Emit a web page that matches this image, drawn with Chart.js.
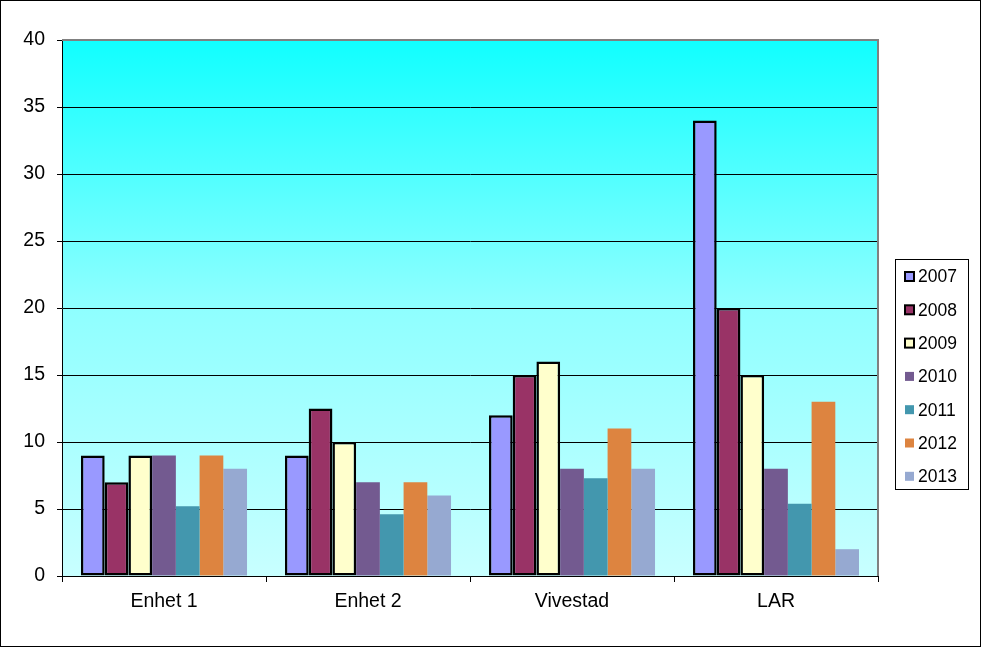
<!DOCTYPE html>
<html>
<head>
<meta charset="utf-8">
<script src="https://cdn.jsdelivr.net/npm/chart.js@4.4.1/dist/chart.umd.min.js"></script>
<style>
    body { margin: 0; background: #fff; }
    #wrap { width: 981px; height: 647px; position: relative; }
</style>
</head>
<body>
<div id="wrap"><canvas id="barChart"></canvas></div>
<script>
// data
const categories = ['Enhet 1', 'Enhet 2', 'Vivestad', 'LAR'];
const years = ['2007', '2008', '2009', '2010', '2011', '2012', '2013'];
const v2007 = [9, 9, 12, 34];
const v2008 = [7, 12.5, 15, 20];
const v2009 = [9, 10, 16, 15];
const v2010 = [9, 7, 8, 8];
const v2011 = [5.2, 4.6, 7.3, 5.4];
const v2012 = [9, 7, 11, 13];
const v2013 = [8, 6, 8, 2];
const yMax = 40;
const yStep = 5;

const values = [v2007, v2008, v2009, v2010, v2011, v2012, v2013];
const colors = ['#9999FF', '#993366', '#FFFFCC', '#735A90', '#4397AE', '#DD8440', '#96A9D1'];
const outlined = [true, true, true, false, false, false, false];

const fontFamily = '"Liberation Sans", Arial, sans-serif';

// background gradient, gray frame, legend and outer border
const decor = {
    id: 'decor',
    beforeDraw(chart) {
        const { ctx, chartArea: a } = chart;
        ctx.save();
        ctx.fillStyle = '#fff';
        ctx.fillRect(0, 0, chart.width, chart.height);
        const g = ctx.createLinearGradient(0, a.top, 0, a.bottom);
        g.addColorStop(0, '#10FFFF');
        g.addColorStop(0.48, '#8CFFFF');
        g.addColorStop(1, '#C8FFFF');
        ctx.fillStyle = g;
        ctx.fillRect(a.left, a.top, a.right - a.left, a.bottom - a.top);
        ctx.restore();
    },
    afterDraw(chart) {
        const { ctx, chartArea: a } = chart;
        ctx.save();
        // gray top and right edges of plot area
        ctx.strokeStyle = '#808080';
        ctx.lineWidth = 2;
        ctx.beginPath();
        ctx.moveTo(a.left, a.top);
        ctx.lineTo(a.right, a.top);
        ctx.lineTo(a.right, a.bottom);
        ctx.stroke();

        // legend
        ctx.lineWidth = 1;
        ctx.strokeStyle = '#000';
        ctx.strokeRect(895.5, 259.5, 73, 230);
        ctx.font = '17.5px ' + fontFamily;
        ctx.textBaseline = 'middle';
        ctx.textAlign = 'left';
        chart.data.datasets.forEach((ds, i) => {
            const cy = 276.5 + i * 33.3;
            ctx.fillStyle = ds.backgroundColor;
            ctx.fillRect(905, cy - 4.5, 9, 9);
            if (outlined[i]) {
                ctx.lineWidth = 2;
                ctx.strokeStyle = '#000';
                ctx.strokeRect(905, cy - 4.5, 9, 9);
            }
            ctx.fillStyle = '#000';
            ctx.fillText(ds.label, 918, cy + 1);
        });

        // outer frame
        ctx.lineWidth = 1;
        ctx.strokeStyle = '#000';
        ctx.strokeRect(0.5, 0.5, chart.width - 1, chart.height - 1);
        ctx.restore();
    }
};

const ctx = document.getElementById('barChart').getContext('2d');

const myChart = new Chart(ctx, {
    type: 'bar',
    data: {
        labels: categories,
        datasets: years.map((y, i) => ({
            label: y,
            data: values[i],
            backgroundColor: colors[i],
            borderColor: '#000',
            borderWidth: outlined[i] ? 2.5 : 0,
            borderSkipped: false,
            barPercentage: 1,
            categoryPercentage: 0.814
        }))
    },
    options: {
        responsive: true,
        maintainAspectRatio: false,
        animation: false,
        layout: { padding: { top: 40, right: 103, bottom: 0, left: 0 } },
        plugins: {
            legend: { display: false },
            tooltip: { enabled: false }
        },
        scales: {
            x: {
                grid: { drawOnChartArea: false, drawTicks: true, tickLength: 6, color: '#000', offset: true },
                border: { color: '#000', width: 1 },
                ticks: { color: '#000', font: { family: fontFamily, size: 19.5 }, padding: 7.5 },
                afterFit(scale) { scale.height = 71; }
            },
            y: {
                min: 0,
                max: yMax,
                grid: { color: '#000', lineWidth: 1, tickLength: 5 },
                border: { color: '#000', width: 1 },
                ticks: { stepSize: yStep, color: '#000', font: { family: fontFamily, size: 19.5 }, padding: 12 },
                afterFit(scale) { scale.width = 62; }
            }
        }
    },
    plugins: [decor]
});
</script>
</body>
</html>
